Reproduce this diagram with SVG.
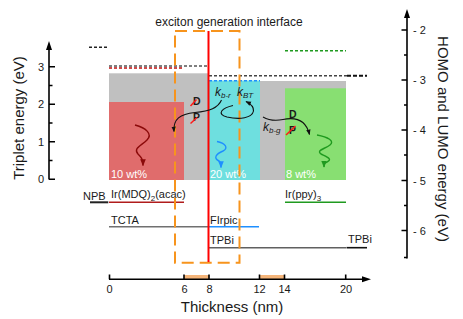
<svg xmlns="http://www.w3.org/2000/svg" width="463" height="319" viewBox="0 0 463 319">
<defs>
<style>
text{font-family:"Liberation Sans",Arial,sans-serif;fill:#1a1a1a}
.tick{font-size:11px}
.lab{font-size:11px}
.wt{font-size:11px;fill:#ffffff}
.ax{stroke:#000;stroke-width:1.6;fill:none}
.dash{stroke-width:1.6;stroke-dasharray:3 2;fill:none}
.lvl{stroke-width:1.6;fill:none}
.k{font-size:12px;font-style:italic}
.ks{font-size:8px;font-style:italic}
.dp{font-size:10.5px;font-weight:bold}
.slash{stroke:#ff1a1a;stroke-width:1.5}
.arr{stroke:#111;stroke-width:1.1;fill:none;marker-end:url(#ah)}
</style>
<marker id="ah" viewBox="0 0 10 10" refX="9" refY="5" markerWidth="5" markerHeight="5" orient="auto"><path d="M0,1 L10,5 L0,9 z" fill="#111"/></marker>
<marker id="ahr" viewBox="0 0 10 10" refX="9" refY="5" markerWidth="5" markerHeight="5" orient="auto"><path d="M0,1 L10,5 L0,9 z" fill="#8b0a0a"/></marker>
<marker id="ahb" viewBox="0 0 10 10" refX="9" refY="5" markerWidth="5" markerHeight="5" orient="auto"><path d="M0,1 L10,5 L0,9 z" fill="#1e8fff"/></marker>
<marker id="ahg" viewBox="0 0 10 10" refX="9" refY="5" markerWidth="5" markerHeight="5" orient="auto"><path d="M0,1 L10,5 L0,9 z" fill="#1f9a1f"/></marker>
</defs>
<rect width="463" height="319" fill="#ffffff"/>

<!-- blocks -->
<g id="blocks">
<rect x="109" y="73.3" width="100" height="106.7" fill="#c0c0c0"/>
<rect x="109" y="102" width="75" height="78" fill="#e06c6c"/>
<rect x="209" y="80.5" width="51" height="99.5" fill="#6edfdf"/>
<rect x="260" y="81" width="86" height="99" fill="#c0c0c0"/>
<rect x="285" y="88.3" width="61" height="91.7" fill="#88df72"/>
<text class="wt" x="111" y="178">10 wt%</text>
<text class="wt" x="210" y="178">20 wt%</text>
<text class="wt" x="286" y="178">8 wt%</text>
</g>

<!-- LUMO dashed levels -->
<g id="lumo">
<line class="dash" x1="89" y1="47.3" x2="108" y2="47.3" stroke="#222"/>
<line class="dash" x1="109" y1="66" x2="207" y2="66" stroke="#555"/>
<line class="dash" x1="109" y1="68" x2="182" y2="68" stroke="#c01010"/>
<line class="dash" x1="209" y1="75.7" x2="347" y2="75.7" stroke="#444"/>
<line x1="347" y1="75.7" x2="367" y2="75.7" stroke="#111" stroke-width="2" stroke-dasharray="4 2"/>
<line class="dash" x1="209" y1="80.7" x2="260" y2="80.7" stroke="#1e8fff"/>
<line class="dash" x1="285" y1="50.7" x2="346" y2="50.7" stroke="#1f9a1f"/>
</g>

<!-- HOMO levels -->
<g id="homo">
<line x1="90" y1="202.3" x2="108.3" y2="202.3" stroke="#222" stroke-width="2"/>
<text class="lab" x="83" y="200">NPB</text>
<line class="lvl" x1="109" y1="202.3" x2="184" y2="202.3" stroke="#b01c1c"/>
<text class="lab" x="111" y="198">Ir(MDQ)<tspan font-size="8" dy="3">2</tspan><tspan dy="-3">(acac)</tspan></text>
<line class="lvl" x1="109" y1="226.7" x2="209" y2="226.7" stroke="#707070"/>
<text class="lab" x="111" y="223.5">TCTA</text>
<line class="lvl" x1="209" y1="226.7" x2="259" y2="226.7" stroke="#1e8fff"/>
<text class="lab" x="210" y="223.5">FIrpic</text>
<line class="lvl" x1="209" y1="247.7" x2="346" y2="247.7" stroke="#606060"/>
<text class="lab" x="210" y="244">TPBi</text>
<line class="lvl" x1="346.5" y1="247.7" x2="367" y2="247.7" stroke="#111"/>
<text class="lab" x="348" y="243">TPBi</text>
<line class="lvl" x1="285" y1="202.3" x2="346" y2="202.3" stroke="#1f9a1f"/>
<text class="lab" x="285" y="197.5">Ir(ppy)<tspan font-size="8" dy="3">3</tspan></text>
</g>

<!-- interface -->
<g id="interface">
<rect x="175" y="31" width="64.5" height="231.7" fill="none" stroke="#f7941d" stroke-width="2" stroke-dasharray="12 6"/>
<line x1="208.5" y1="31" x2="208.5" y2="262" stroke="#ff0000" stroke-width="2"/>
<text x="229" y="26" font-size="12" text-anchor="middle">exciton generation interface</text>
</g>

<!-- emission squiggles -->
<g id="emission">
<path d="M135,125 C146,128 153,134 147,140 C141,146 133,148 138,154 C141,157 143,159 143,165.5" fill="none" stroke="#8b0a0a" stroke-width="1.4" marker-end="url(#ahr)"/>
<path d="M217,141.5 C225,143 229,148 223,151 C216,154 213,158 219,161 C221,162 221,164 221,167.5" fill="none" stroke="#1e8fff" stroke-width="1.4" marker-end="url(#ahb)"/>
<path d="M317,135 C328,137 335,141 330,145 C325,149 316,150 321,154 C327,157 333,159 327,162 C324,163 324,164 324,167" fill="none" stroke="#1f9a1f" stroke-width="1.4" marker-end="url(#ahg)"/>
</g>

<!-- transfer -->
<g id="transfer">
<path class="arr" d="M221.5,100 C218,108 210,111 195,112.5 C180,114 173,119 174,131.5"/>
<path class="arr" d="M233,105.5 C222,108 216,114 227,117 C240,120 252,118 253.5,111 C254,107 251,104 246,101.5"/>
<path class="arr" d="M263,117 C270,121 276,121 283,119.5 C295,117 306,120 309.5,134.5"/>
<text class="k" x="215" y="96">k<tspan class="ks" dy="2">b-r</tspan></text>
<text class="k" x="237" y="96">k<tspan class="ks" dy="2">BT</tspan></text>
<text class="k" x="263" y="131">k<tspan class="ks" dy="2">b-g</tspan></text>
<text class="dp" x="193" y="105">D</text>
<line class="slash" x1="190.5" y1="106" x2="196.5" y2="99.5"/>
<text class="dp" x="193" y="121">P</text>
<line class="slash" x1="190.5" y1="123.5" x2="197" y2="117.5"/>
<text class="dp" x="289" y="117.5">D</text>
<text class="dp" x="289" y="134">P</text>
<line class="slash" x1="286" y1="135" x2="295.5" y2="126"/>
</g>

<!-- left axis -->
<g id="axis-left">
<line class="ax" x1="49" y1="179.5" x2="49" y2="46"/>
<path d="M49,41 L46,50 L52,50 z" fill="#000"/>
<path class="ax" d="M49,179.2 H55 M49,141.7 H55 M49,104.2 H55 M49,66.7 H55 M49,160.5 H52.5 M49,123 H52.5 M49,85.5 H52.5"/>
<text class="tick" x="44" y="70.5" text-anchor="end">3</text>
<text class="tick" x="44" y="108" text-anchor="end">2</text>
<text class="tick" x="44" y="145.5" text-anchor="end">1</text>
<text class="tick" x="44" y="183" text-anchor="end">0</text>
<text font-size="15" transform="translate(24,118) rotate(-90)" text-anchor="middle">Triplet energy (eV)</text>
</g>

<!-- right axis -->
<g id="axis-right">
<line class="ax" x1="407" y1="258.5" x2="407" y2="14"/>
<path d="M407,9 L404,18 L410,18 z" fill="#000"/>
<path class="ax" d="M407,30 H401.5 M407,80 H401.5 M407,130 H401.5 M407,180.5 H401.5 M407,230.5 H401.5 M407,55 H404 M407,105 H404 M407,155 H404 M407,205.5 H404 M407,257.5 H404"/>
<text class="tick" x="413" y="34">- 2</text>
<text class="tick" x="413" y="84">- 3</text>
<text class="tick" x="413" y="134">- 4</text>
<text class="tick" x="413" y="184.5">- 5</text>
<text class="tick" x="413" y="234.5">- 6</text>
<text font-size="15" transform="translate(438,139) rotate(90)" text-anchor="middle">HOMO and LUMO energy (eV)</text>
</g>

<!-- bottom axis -->
<g id="axis-bottom">
<rect x="184" y="275" width="25" height="4.3" fill="#f5b57a"/>
<rect x="259.5" y="275" width="25" height="4.3" fill="#f5b57a"/>
<line class="ax" x1="109" y1="279.3" x2="366" y2="279.3"/>
<path d="M371,279.3 L362,276.3 L362,282.3 z" fill="#000"/>
<path class="ax" d="M109.5,279.3 V274.5 M184,279.3 V274.5 M209,279.3 V274.5 M259.5,279.3 V274.5 M284.5,279.3 V274.5 M345.7,279.3 V274.5"/>
<text class="tick" x="109.5" y="293" text-anchor="middle">0</text>
<text class="tick" x="184.5" y="293" text-anchor="middle">6</text>
<text class="tick" x="209.5" y="293" text-anchor="middle">8</text>
<text class="tick" x="259.5" y="293" text-anchor="middle">12</text>
<text class="tick" x="284.5" y="293" text-anchor="middle">14</text>
<text class="tick" x="346" y="293" text-anchor="middle">20</text>
<text font-size="15" x="232" y="312" text-anchor="middle">Thickness (nm)</text>
</g>
</svg>
